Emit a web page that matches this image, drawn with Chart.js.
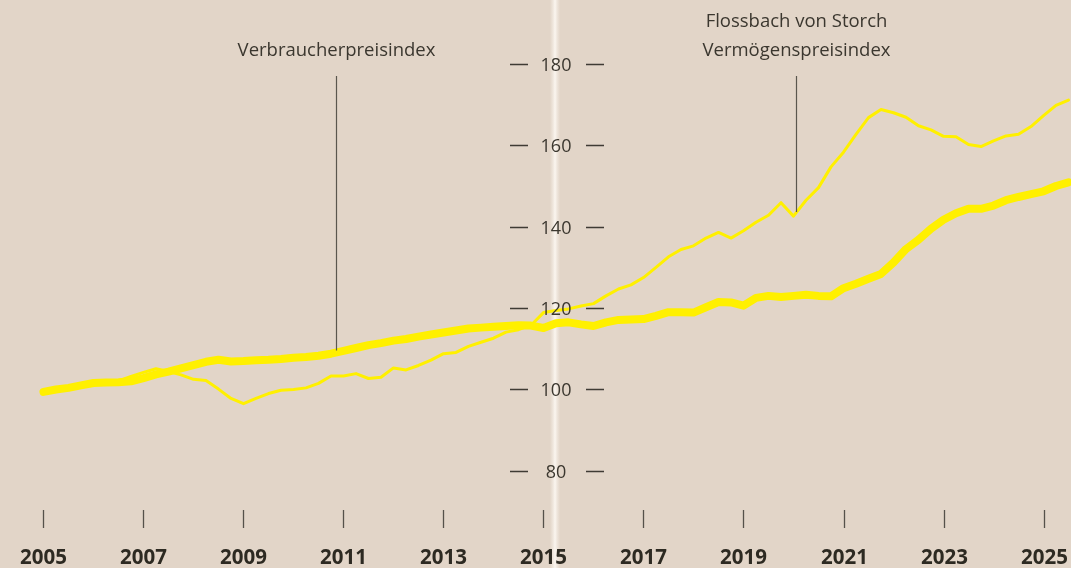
<!DOCTYPE html>
<html lang="de">
<head>
<meta charset="utf-8">
<script src="https://cdn.jsdelivr.net/npm/chart.js@4.4.1/dist/chart.umd.min.js"></script>
<style>
  html, body { margin: 0; padding: 0; }
  body {
    width: 1071px; height: 568px; overflow: hidden;
    background: #e2d5c8;
  }
  .paper {
    position: relative; width: 1071px; height: 568px;
    background:
      linear-gradient(90deg, rgba(255,255,255,0) 550px, rgba(248,242,235,0.6) 553px, rgba(255,251,246,0.85) 555px, rgba(248,242,235,0.6) 557px, rgba(255,255,255,0) 560px),
      #e2d5c8;
  }
  canvas { display: block; }
</style>
</head>
<body>
<div class="paper">
  <canvas id="chart" width="1071" height="568"></canvas>
</div>
<script>
// Quarters 2005 Q1 .. 2025 Q3
const quarters = [
  "2005 Q1","2005 Q2","2005 Q3","2005 Q4","2006 Q1","2006 Q2","2006 Q3","2006 Q4",
  "2007 Q1","2007 Q2","2007 Q3","2007 Q4","2008 Q1","2008 Q2","2008 Q3","2008 Q4",
  "2009 Q1","2009 Q2","2009 Q3","2009 Q4","2010 Q1","2010 Q2","2010 Q3","2010 Q4",
  "2011 Q1","2011 Q2","2011 Q3","2011 Q4","2012 Q1","2012 Q2","2012 Q3","2012 Q4",
  "2013 Q1","2013 Q2","2013 Q3","2013 Q4","2014 Q1","2014 Q2","2014 Q3","2014 Q4",
  "2015 Q1","2015 Q2","2015 Q3","2015 Q4","2016 Q1","2016 Q2","2016 Q3","2016 Q4",
  "2017 Q1","2017 Q2","2017 Q3","2017 Q4","2018 Q1","2018 Q2","2018 Q3","2018 Q4",
  "2019 Q1","2019 Q2","2019 Q3","2019 Q4","2020 Q1","2020 Q2","2020 Q3","2020 Q4",
  "2021 Q1","2021 Q2","2021 Q3","2021 Q4","2022 Q1","2022 Q2","2022 Q3","2022 Q4",
  "2023 Q1","2023 Q2","2023 Q3","2023 Q4","2024 Q1","2024 Q2","2024 Q3","2024 Q4",
  "2025 Q1","2025 Q2","2025 Q3"
];

// Verbraucherpreisindex (thick line)
const cpi = [
  99.4, 100.0, 100.4, 101.0, 101.6, 101.7, 101.8, 102.0,
  102.8, 103.7, 104.4, 105.2, 106.0, 106.8, 107.3, 106.9,
  107.0, 107.2, 107.3, 107.5, 107.8, 108.0, 108.3, 108.8,
  109.5, 110.2, 110.9, 111.4, 112.0, 112.4, 113.0, 113.5,
  114.0, 114.5, 115.0, 115.2, 115.4, 115.6, 115.8, 115.7,
  115.1, 116.3, 116.5, 116.0, 115.6, 116.5, 117.1, 117.2,
  117.3, 118.1, 119.0, 119.0, 118.9, 120.2, 121.5, 121.4,
  120.6, 122.5, 123.0, 122.7, 123.0, 123.3, 123.0, 122.9,
  124.9, 126.0, 127.2, 128.4, 131.2, 134.5, 136.8, 139.5,
  141.7, 143.3, 144.4, 144.4, 145.2, 146.5, 147.3, 148.0,
  148.7, 150.0, 150.9
];

// Flossbach von Storch Vermögenspreisindex (thin line)
const assetIndex = [
  99.4, 100.0, 100.5, 101.1, 101.7, 101.9, 102.1, 103.2,
  104.2, 105.1, 104.4, 103.6, 102.5, 102.2, 100.1, 97.8,
  96.5, 97.8, 99.0, 99.8, 100.0, 100.4, 101.5, 103.3,
  103.3, 103.9, 102.7, 103.0, 105.3, 104.8, 105.9, 107.2,
  108.8, 109.1, 110.6, 111.6, 112.6, 114.1, 114.7, 115.8,
  118.9, 119.4, 119.8, 120.5, 121.1, 123.0, 124.7, 125.7,
  127.5, 130.0, 132.6, 134.4, 135.3, 137.2, 138.6, 137.2,
  139.0, 141.1, 142.8, 145.9, 142.6, 146.5, 149.6, 154.7,
  158.3, 162.7, 166.8, 168.8, 168.0, 166.9, 164.8, 163.8,
  162.2, 162.1, 160.2, 159.7, 161.1, 162.3, 162.7, 164.6,
  167.3, 169.8, 171.1
];

const yearTicks = [2005, 2007, 2009, 2011, 2013, 2015, 2017, 2019, 2021, 2023, 2025];
const valueTicks = [80, 100, 120, 140, 160, 180];

// label text, anchor year, anchor value
const annotations = [
  { lines: ["Verbraucherpreisindex"], year: 2010.85, value: 109.6 },
  { lines: ["Flossbach von Storch", "Vermögenspreisindex"], year: 2020.05, value: 143.6 }
];

function quarterToYear(q) {
  const [y, qq] = q.split(" Q");
  return Number(y) + (Number(qq) - 1) / 4;
}

const YELLOW = "#fff000";
const TEXT = "#3b372f";
const FONT = "'Open Sans', 'Noto Sans', sans-serif";

const decorations = {
  id: "decorations",
  afterDatasetsDraw(chart) {
    const { ctx, scales: { x, y } } = chart;
    ctx.save();

    // value labels in the middle with dashes
    ctx.font = "18px " + FONT;
    ctx.fillStyle = TEXT;
    ctx.strokeStyle = "#3f3b34";
    ctx.lineWidth = 1.5;
    ctx.textAlign = "center";
    ctx.textBaseline = "middle";
    valueTicks.forEach(v => {
      const py = Math.round(y.getPixelForValue(v)) + 0.5;
      ctx.beginPath();
      ctx.moveTo(510, py); ctx.lineTo(528, py);
      ctx.moveTo(586, py); ctx.lineTo(604, py);
      ctx.stroke();
      ctx.fillText(String(v), 556, py + 1);
    });

    // year ticks and labels
    ctx.strokeStyle = "#55514a";
    ctx.lineWidth = 1.3;
    ctx.font = "bold 20.5px " + FONT;
    ctx.fillStyle = "#2d2a22";
    ctx.textBaseline = "alphabetic";
    yearTicks.forEach(yr => {
      const px = Math.round(x.getPixelForValue(yr)) + 0.5;
      ctx.beginPath();
      ctx.moveTo(px, 510); ctx.lineTo(px, 528);
      ctx.stroke();
      ctx.fillText(String(yr), px, 564);
    });

    // annotations
    ctx.font = "18.5px " + FONT;
    ctx.fillStyle = TEXT;
    ctx.strokeStyle = "#5a564e";
    ctx.lineWidth = 1.2;
    ctx.textBaseline = "middle";
    annotations.forEach(a => {
      const px = Math.round(x.getPixelForValue(a.year)) + 0.5;
      const n = a.lines.length;
      a.lines.forEach((t, i) => {
        ctx.fillText(t, px, 51 - (n - 1 - i) * 29);
      });
      ctx.beginPath();
      ctx.moveTo(px, 76);
      ctx.lineTo(px, y.getPixelForValue(a.value));
      ctx.stroke();
    });

    ctx.restore();
  }
};

const xs = quarters.map(quarterToYear);

new Chart(document.getElementById("chart"), {
  type: "line",
  data: {
    datasets: [
      {
        label: "Flossbach von Storch Vermögenspreisindex",
        data: xs.map((q, i) => ({ x: q, y: assetIndex[i] })),
        borderColor: YELLOW,
        borderWidth: 3,
        pointRadius: 0,
        tension: 0,
        borderJoinStyle: "round",
        borderCapStyle: "round"
      },
      {
        label: "Verbraucherpreisindex",
        data: xs.map((q, i) => ({ x: q, y: cpi[i] })),
        borderColor: YELLOW,
        borderWidth: 8,
        pointRadius: 0,
        tension: 0,
        borderJoinStyle: "round",
        borderCapStyle: "round"
      }
    ]
  },
  options: {
    responsive: false,
    animation: false,
    layout: { padding: 0 },
    scales: {
      x: { type: "linear", display: false, min: 2004.13, max: 2025.55 },
      y: { type: "linear", display: false, min: 56.14, max: 195.7 }
    },
    plugins: {
      legend: { display: false },
      tooltip: { enabled: false }
    }
  },
  plugins: [decorations]
});
</script>
</body>
</html>
